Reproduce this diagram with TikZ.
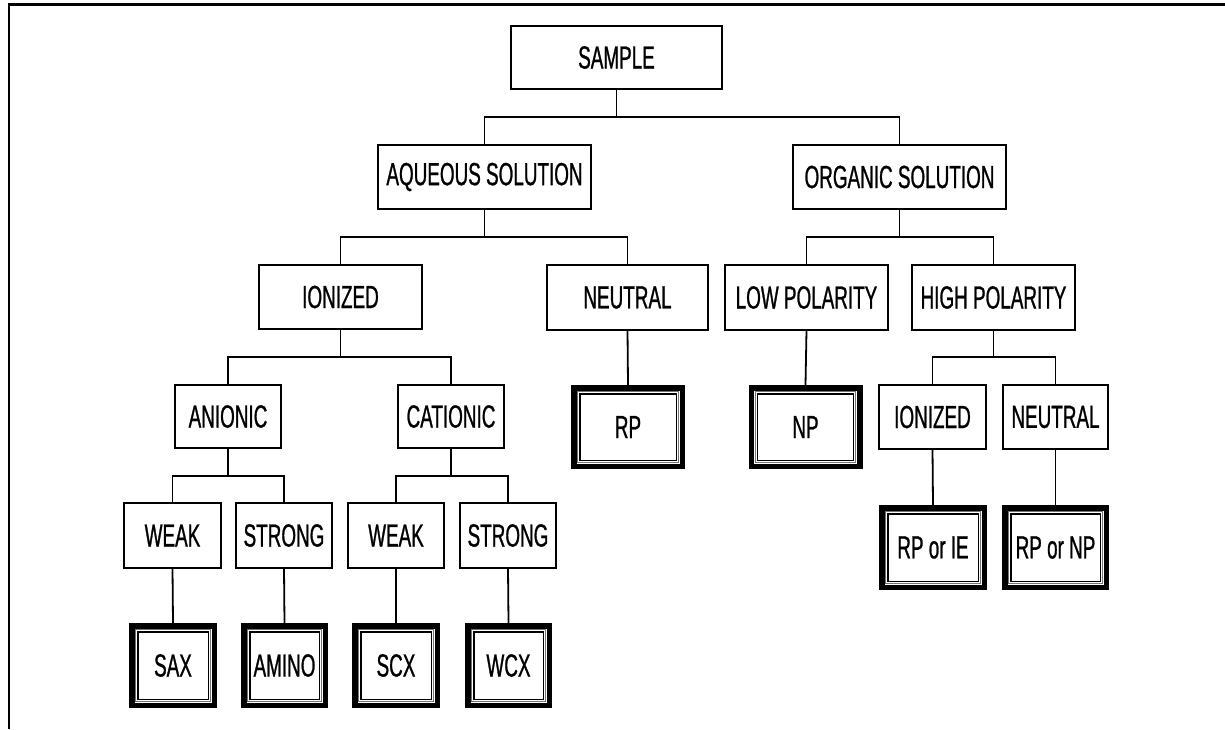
\documentclass[tikz,border=0pt]{standalone}
\usepackage{fontspec}
\setmainfont{Liberation Sans}[FakeStretch=0.59,FakeBold=0.8]
\begin{document}
\begin{tikzpicture}[x=1pt,y=-1pt,
  box/.style={draw,line width=1.9pt,inner sep=0pt,outer sep=0pt,align=center,
    font=\fontsize{32}{32}\selectfont},
  fin/.style={box,draw=none},
  conn/.style={line width=1.8pt}]
\useasboundingbox (0,0) rectangle (1225,729);
\draw[line width=2.5pt] (9,729) -- (9,4.5) -- (1225,4.5);
% level 0-2
\node[box,minimum width=211pt,minimum height=63pt] (sample) at (616.5,57.5) {SAMPLE};
\node[box,minimum width=213pt,minimum height=64pt] (aq) at (484.5,177) {AQUEOUS SOLUTION};
\node[box,minimum width=213pt,minimum height=64pt] (org) at (899.5,177) {ORGANIC SOLUTION};
% level 3
\node[box,minimum width=163pt,minimum height=64pt] (ion) at (340.5,297) {IONIZED};
\node[box,minimum width=161pt,minimum height=65pt] (neu) at (627.5,297.5) {NEUTRAL};
\node[box,minimum width=163pt,minimum height=65pt] (low) at (806.5,297.5) {LOW POLARITY};
\node[box,minimum width=163pt,minimum height=65pt] (high) at (993.5,297.5) {HIGH POLARITY};
% level 4
\node[box,minimum width=106pt,minimum height=63pt] (anion) at (228,416.5) {ANIONIC};
\node[box,minimum width=106pt,minimum height=63pt] (cation) at (451,416.5) {CATIONIC};
\node[fin,minimum width=114pt,minimum height=84pt] (rp) at (628,427) {RP};
\node[fin,minimum width=114pt,minimum height=84pt] (np) at (805.5,427) {NP};
\node[box,minimum width=107pt,minimum height=64pt] (ion2) at (932.5,417) {IONIZED};
\node[box,minimum width=105pt,minimum height=64pt] (neu2) at (1055.5,417) {NEUTRAL};
% level 5
\node[box,minimum width=97pt,minimum height=65pt] (weak1) at (172.5,535.5) {WEAK};
\node[box,minimum width=96pt,minimum height=65pt] (strong1) at (284,535.5) {STRONG};
\node[box,minimum width=96pt,minimum height=65pt] (weak2) at (396,535.5) {WEAK};
\node[box,minimum width=96pt,minimum height=65pt] (strong2) at (508,535.5) {STRONG};
\node[fin,minimum width=108pt,minimum height=85pt] (rpie) at (933,547.5) {RP or IE};
\node[fin,minimum width=107pt,minimum height=85pt] (rpnp) at (1055.5,547.5) {RP or NP};
% level 6
\node[fin,minimum width=88pt,minimum height=85pt] (sax) at (173,665.5) {SAX};
\node[fin,minimum width=87pt,minimum height=85pt] (amino) at (284.5,665.5) {AMINO};
\node[fin,minimum width=88pt,minimum height=85pt] (scx) at (396,665.5) {SCX};
\node[fin,minimum width=87pt,minimum height=85pt] (wcx) at (508.5,665.5) {WCX};
% final boxes frames
\foreach \n in {rp,np,rpie,rpnp,sax,amino,scx,wcx}{
  \draw[line width=5.5pt] ([shift={(2.75,2.75)}]\n.north west) rectangle ([shift={(-2.75,-2.75)}]\n.south east);
  \draw[line width=1pt,black!55] ([shift={(6.6,6.6)}]\n.north west) rectangle ([shift={(-6.6,-6.6)}]\n.south east);
  \draw[line width=1.4pt] ([shift={(8.8,8.8)}]\n.north west) rectangle ([shift={(-8.8,-8.8)}]\n.south east);
}
% connectors
\draw[conn] (sample.south) -- (sample.south |- 0,117) -| (aq.north);
\draw[conn] (sample.south |- 0,117) -| (org.north);
\draw[conn] (aq.south) -- (aq.south |- 0,237) -| (ion.north);
\draw[conn] (aq.south |- 0,237) -| (neu.north);
\draw[conn] (org.south) -- (org.south |- 0,237) -| (low.north);
\draw[conn] (org.south |- 0,237) -| (high.north);
\draw[conn] (ion.south) -- (ion.south |- 0,357) -| (anion.north);
\draw[conn] (ion.south |- 0,357) -| (cation.north);
\draw[conn] (high.south) -- (high.south |- 0,357) -| (ion2.north);
\draw[conn] (high.south |- 0,357) -| (neu2.north);
\draw[conn] (anion.south) -- (anion.south |- 0,476) -| (weak1.north);
\draw[conn] (anion.south |- 0,476) -| (strong1.north);
\draw[conn] (cation.south) -- (cation.south |- 0,476) -| (weak2.north);
\draw[conn] (cation.south |- 0,476) -| (strong2.north);
\draw[conn] (neu.south) -- (rp.north);
\draw[conn] (low.south) -- (np.north);
\draw[conn] (ion2.south) -- (rpie.north);
\draw[conn] (neu2.south) -- (rpnp.north);
\draw[conn] (weak1.south) -- (sax.north);
\draw[conn] (strong1.south) -- (amino.north);
\draw[conn] (weak2.south) -- (scx.north);
\draw[conn] (strong2.south) -- (wcx.north);
\end{tikzpicture}
\end{document}
